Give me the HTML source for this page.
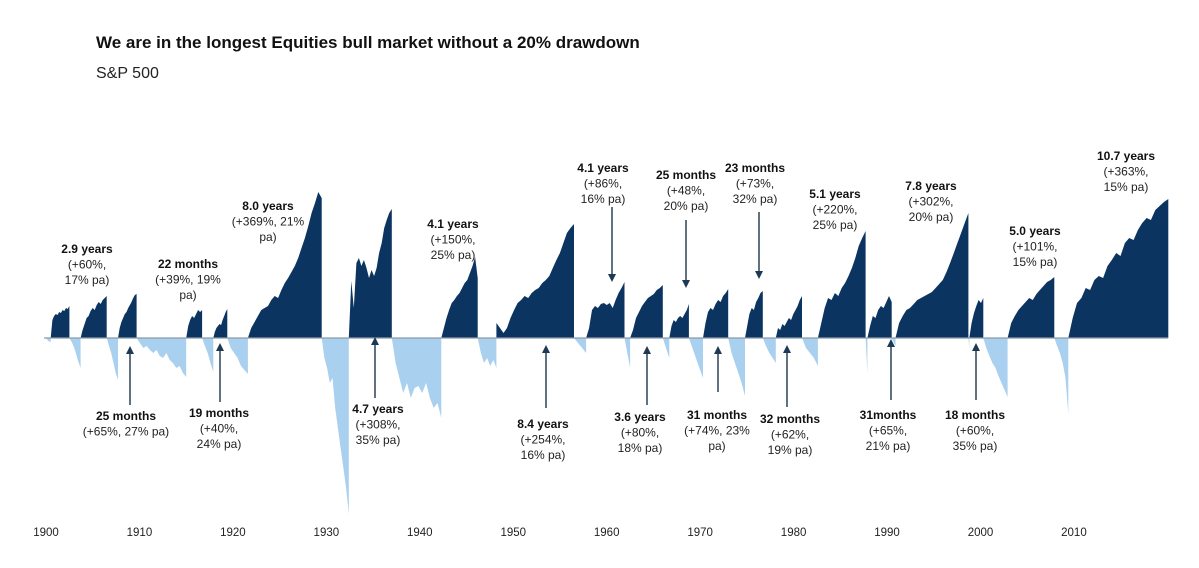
<!DOCTYPE html>
<html><head><meta charset="utf-8"><style>
body{margin:0;background:#fff;}
svg{display:block;font-family:"Liberation Sans",Arial,sans-serif;}
.lb{font-size:12px;font-weight:bold;fill:#111;text-anchor:middle}
.ln{font-size:12px;fill:#222;text-anchor:middle}
.yr{font-size:11.5px;fill:#222;text-anchor:middle}
</style></head><body>
<svg id="chart" width="1199" height="568" viewBox="0 0 1199 568">
<text x="96" y="48" font-size="17" font-weight="bold" fill="#111">We are in the longest Equities bull market without a 20% drawdown</text>
<text x="96" y="78" font-size="16" fill="#222">S&amp;P 500</text>
<g id="marks"></g>
<line x1="44" y1="338" x2="1168" y2="338" stroke="#8a9aa8" stroke-width="1.2"/>
<g id="ann"></g>
<g id="xaxis"></g>
</svg>
<script>
const bullStarts=[1900.5,1903.7,1907.7,1915.0,1917.9,1921.6,1932.4,1942.3,1948.2,1957.8,1962.5,1966.7,1970.3,1974.8,1978.1,1982.6,1987.9,1990.9,1998.8,2002.9,2009.4];
const bullEnds=[1902.5,1906.5,1909.7,1916.7,1919.4,1929.5,1937.0,1946.2,1956.5,1961.9,1966.0,1968.8,1973.0,1976.7,1980.9,1987.7,1990.5,1998.7,2000.3,2007.9,2020.1];
const bullValues=[
[0,18,22,24,23,26,25,28,27,30,29,32],
[0,8,14,20,22,27,30,28,33,36,34,38,40,42],
[0,10,16,20,24,26,30,33,36,40,43,44],
[0,12,18,22,20,24,28,26,28],
[0,6,10,12,14,13,18,22,26,29],
[0,10,16,22,28,30,32,38,42,40,48,55,60,66,72,80,90,100,112,125,135,146,140],
[0,57,30,75,80,72,78,70,60,68,62,70,85,95,110,118,125,129],
[0,10,20,28,35,38,42,45,50,55,58,65,72,81,60],
[15,10,5,10,20,28,35,38,42,40,45,48,50,55,58,62,70,78,85,95,105,110,114],
[0,10,28,32,30,34,35,33,35,30,38,45,50,56],
[0,8,20,26,32,36,40,42,44,48,50,53],
[0,12,18,16,20,22,20,24,28,34],
[0,15,26,30,28,34,38,36,42,45,49],
[0,12,24,30,28,36,40,45,47],
[0,10,8,14,12,16,20,18,24,28,32,38,42],
[0,15,30,40,38,45,42,50,55,62,70,80,92,100,107],
[0,12,22,20,28,32,30,36,42,36],
[0,15,22,28,30,34,38,40,42,44,46,50,54,58,66,75,85,95,105,115,125],
[0,15,25,32,38,35,40],
[0,15,22,28,32,36,40,38,44,48,52,56,58,61],
[0,20,35,40,50,48,58,62,60,72,78,85,82,95,100,98,108,115,120,118,128,132,136,139]];
const bearStarts=[1900.0,1902.5,1906.5,1909.7,1916.7,1919.4,1929.5,1937.0,1946.2,1956.5,1961.9,1966.0,1968.8,1973.0,1976.7,1980.9,1987.7,1990.5,1998.7,2000.3,2007.9];
const bearEnds=[1900.5,1903.7,1907.7,1915.0,1917.9,1921.6,1932.4,1942.3,1948.2,1957.8,1962.5,1966.7,1970.3,1974.8,1978.1,1982.6,1987.9,1990.9,1998.8,2002.9,2009.4];
const bearValues=[
[0,3,4],[0,5,12,22,30],[0,8,15,25,35,42],
[0,5,10,8,12,15,12,18,20,15,22,25,30,28,35,39],
[0,8,15,25,34],[0,10,15,20,28,32,36],
[0,20,30,45,40,70,90,110,130,150,176],
[0,25,40,55,45,60,50,48,55,45,60,70,65,80],
[0,15,25,20,28,22,30],[0,5,10,15],[0,15,30],[0,10,20],[0,10,20,30,40],
[0,15,25,35,45,58],[0,8,15,20,25],[0,10,15,20,28],[0,35],[0,8],[0,10],
[0,10,18,25,30,38,45,52,59],[0,8,15,25,40,76]];
const tickYears=[1900,1910,1920,1930,1940,1950,1960,1970,1980,1990,2000,2010];

const NS="http://www.w3.org/2000/svg";
function xs(y){return 46+(y-1900)*9.345;}
function ys(v){return 338-v;}
const marks=document.getElementById('marks');
function area(s,e,vals,sign,color,name){
  const n=vals.length;let pts=[[xs(s),338]];
  for(let i=0;i<n;i++){const t=s+(e-s)*i/(n-1);pts.push([xs(t),338-(338-ys(vals[i]))*sign]);}
  pts.push([xs(e),338]);
  const p=document.createElementNS(NS,'polygon');
  p.setAttribute('points',pts.map(q=>q[0].toFixed(1)+','+q[1].toFixed(1)).join(' '));
  p.setAttribute('fill',color);
  
  
  marks.appendChild(p);
}
bearStarts.forEach((s,i)=>area(s,bearEnds[i],bearValues[i],-1,'#aad0ef','bear-market-'+i));
bullStarts.forEach((s,i)=>area(s,bullEnds[i],bullValues[i],1,'#0b3560','bull-market-'+i));

const xa=document.getElementById('xaxis');
tickYears.forEach(y=>{const t=document.createElementNS(NS,'text');t.setAttribute('x',xs(y));t.setAttribute('y',536);t.setAttribute('class','yr');t.textContent=y;


xa.appendChild(t);});

const ann=document.getElementById('ann');
const labels=[
[87,253,['2.9 years','(+60%,','17% pa)']],
[188,268,['22 months','(+39%, 19%','pa)']],
[268,210,['8.0 years','(+369%, 21%','pa)']],
[453,228,['4.1  years','(+150%,','25% pa)']],
[603,172,['4.1 years','(+86%,','16% pa)']],
[686,179,['25 months','(+48%,','20% pa)']],
[755,172,['23 months','(+73%,','32% pa)']],
[835,198,['5.1 years','(+220%,','25% pa)']],
[931,190,['7.8 years','(+302%,','20% pa)']],
[1035,235,['5.0 years','(+101%,','15% pa)']],
[1126,160,['10.7 years','(+363%,','15% pa)']],
[126,420,['25 months','(+65%, 27% pa)']],
[219,417,['19 months','(+40%,','24% pa)']],
[378,413,['4.7 years','(+308%,','35% pa)']],
[543,428,['8.4 years','(+254%,','16% pa)']],
[640,421,['3.6 years','(+80%,','18% pa)']],
[717,419,['31 months','(+74%, 23%','pa)']],
[790,423,['32 months','(+62%,','19% pa)']],
[888,419,['31months','(+65%,','21% pa)']],
[975,419,['18 months','(+60%,','35% pa)']]];
labels.forEach((L,k)=>{L[2].forEach((s,i)=>{const t=document.createElementNS(NS,'text');t.setAttribute('x',L[0]);t.setAttribute('y',L[1]+i*15.5);t.setAttribute('class',i?'ln':'lb');t.textContent=s;


ann.appendChild(t);});});
const arrows=[[612,207,282],[686,220,288],[759,212,279],[130,405,346],[220,402,343],[375,398,337],[546,408,345],[647,405,346],[718,392,346],[787,407,345],[891,400,339],[976,400,343]];
arrows.forEach(a=>{const x=a[0],y1=a[1],y2=a[2],d=y2>y1?1:-1;
const l=document.createElementNS(NS,'line');l.setAttribute('x1',x);l.setAttribute('x2',x);l.setAttribute('y1',y1);l.setAttribute('y2',y2-d*7);l.setAttribute('stroke','#2a4258');l.setAttribute('stroke-width','1.5');


ann.appendChild(l);
const h=document.createElementNS(NS,'polygon');h.setAttribute('points',`${x-4},${y2-d*8} ${x+4},${y2-d*8} ${x},${y2}`);h.setAttribute('fill','#1d3a55');


ann.appendChild(h);});
</script>
</body></html>
